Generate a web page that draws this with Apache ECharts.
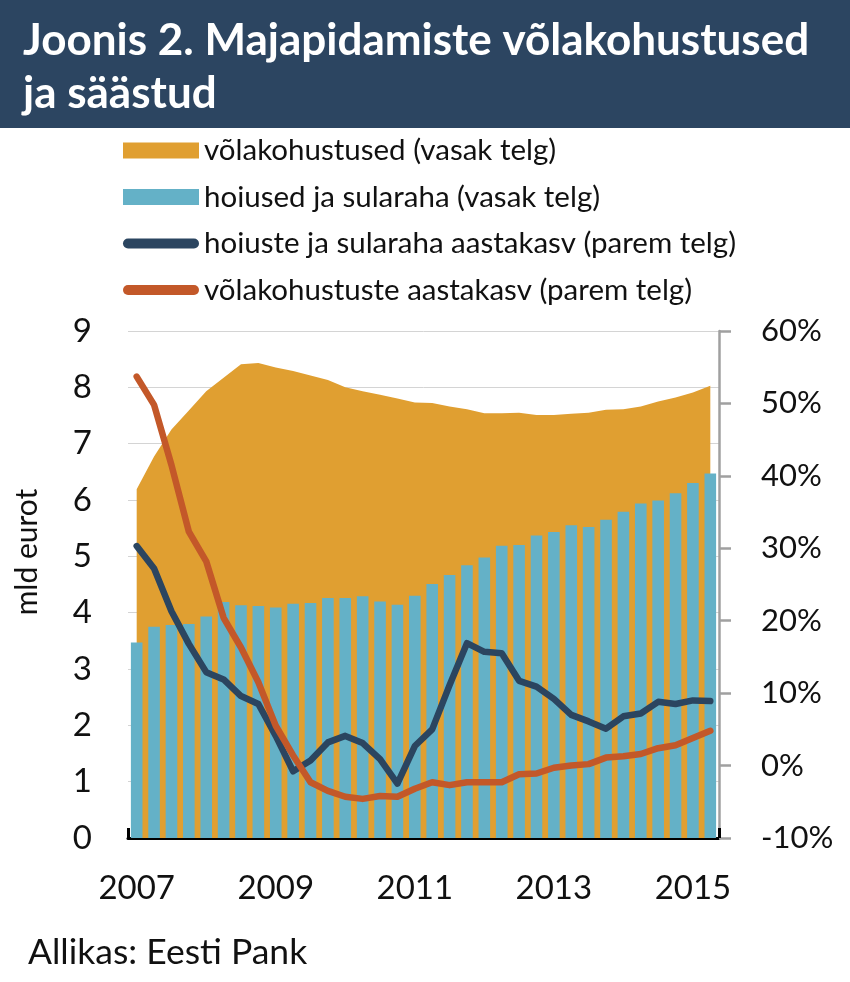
<!DOCTYPE html>
<html>
<head>
<meta charset="utf-8">
<script src="https://cdn.jsdelivr.net/npm/echarts@6/dist/echarts.min.js"></script>
<style>
html,body{margin:0;padding:0;background:#fff;}
#chart{width:850px;height:982px;}
</style>
</head>
<body>
<div id="chart"></div>
<script>
// Quarters 2007Q1 .. 2015Q2
const categories = [
  '2007Q1','2007Q2','2007Q3','2007Q4','2008Q1','2008Q2','2008Q3','2008Q4',
  '2009Q1','2009Q2','2009Q3','2009Q4','2010Q1','2010Q2','2010Q3','2010Q4',
  '2011Q1','2011Q2','2011Q3','2011Q4','2012Q1','2012Q2','2012Q3','2012Q4',
  '2013Q1','2013Q2','2013Q3','2013Q4','2014Q1','2014Q2','2014Q3','2014Q4',
  '2015Q1','2015Q2'
];
// võlakohustused (mld eurot, vasak telg)
const liabilities = [6.19,6.77,7.25,7.59,7.93,8.17,8.41,8.43,8.35,8.29,8.21,8.13,8.00,7.93,7.87,7.80,
  7.73,7.72,7.66,7.61,7.54,7.54,7.55,7.51,7.51,7.53,7.55,7.60,7.61,7.66,7.75,7.82,7.91,8.03];
// hoiused ja sularaha (mld eurot, vasak telg)
const deposits = [3.47,3.75,3.78,3.80,3.93,4.19,4.13,4.12,4.09,4.16,4.17,4.26,4.26,4.29,4.20,4.14,
  4.30,4.51,4.67,4.84,4.98,5.19,5.20,5.37,5.43,5.55,5.52,5.65,5.79,5.94,5.99,6.12,6.30,6.47];
// hoiuste ja sularaha aastakasv (%, parem telg)
const depositGrowth = [30.3,27.2,21.3,16.8,12.9,11.9,9.6,8.5,4.1,-0.8,0.7,3.2,4.1,3.1,0.9,-2.5,
  2.7,5.0,11.1,16.9,15.7,15.5,11.7,10.9,9.2,7.0,6.1,5.1,6.8,7.2,8.8,8.5,9.0,8.9];
// võlakohustuste aastakasv (%, parem telg)
const liabilityGrowth = [53.7,49.8,41.5,32.3,28.2,20.4,16.3,11.5,5.5,1.4,-2.3,-3.5,-4.3,-4.6,-4.2,-4.3,
  -3.2,-2.3,-2.7,-2.3,-2.3,-2.3,-1.2,-1.1,-0.3,0.0,0.2,1.1,1.3,1.6,2.4,2.8,3.8,4.8];
const leftTicks = {min: 0, max: 9, interval: 1};
const rightTicks = {min: -10, max: 60, interval: 10};

const names = ['võlakohustused (vasak telg)','hoiused ja sularaha (vasak telg)',
  'hoiuste ja sularaha aastakasv (parem telg)','võlakohustuste aastakasv (parem telg)'];
const C_AREA = '#e09f31', C_BAR = '#64b1c7', C_DARK = '#2b4560', C_ORANGE = '#c35829';
const FONT = 'Lato';
const pill = 'path://M5,0 L71,0 A5,5 0 0 1 71,10 L5,10 A5,5 0 0 1 5,0 Z';

const chart = echarts.init(document.getElementById('chart'), null, {renderer: 'canvas'});
chart.setOption({
  animation: false,
  backgroundColor: '#ffffff',
  textStyle: {fontFamily: FONT},
  title: {
    text: 'Joonis 2. Majapidamiste võlakohustused\nja säästud',
    left: 18, top: 9,
    textStyle: {color: '#ffffff', fontFamily: FONT, fontWeight: 'bold', fontSize: 44, lineHeight: 53}
  },
  graphic: [
    {type: 'rect', z: 0, shape: {x: 0, y: 0, width: 850, height: 128}, style: {fill: '#2c4561'}},
    {type: 'text', x: 27, y: 552, rotation: Math.PI / 2,
      style: {text: 'mld eurot', fill: '#111', font: '30px ' + FONT, align: 'center', verticalAlign: 'middle'}},
    {type: 'text', x: 28, y: 953,
      style: {text: 'Allikas: Eesti Pank', fill: '#111', font: '35.5px ' + FONT, align: 'left', verticalAlign: 'middle'}}
  ],
  legend: {
    orient: 'vertical', left: 123, top: 135.5, padding: 0,
    itemWidth: 76, itemHeight: 16, itemGap: 16.5,
    textStyle: {fontSize: 29.5, color: '#111', fontFamily: FONT},
    data: [
      {name: names[0], icon: 'rect'},
      {name: names[1], icon: 'rect'},
      {name: names[2], icon: pill},
      {name: names[3], icon: pill}
    ]
  },
  grid: {left: 128, right: 131, top: 331, bottom: 144, containLabel: false, outerBoundsMode: 'none'},
  xAxis: {
    type: 'category', data: categories, boundaryGap: true,
    axisLine: {show: true, lineStyle: {color: '#000', width: 3}},
    axisTick: {show: true, inside: true, length: 10, interval: 3, lineStyle: {color: '#000', width: 3}},
    axisLabel: {interval: 7, margin: 34, fontSize: 33, color: '#111', fontFamily: FONT,
      formatter: v => v.slice(0, 4)},
    splitLine: {show: false}
  },
  yAxis: [
    {type: 'value', min: leftTicks.min, max: leftTicks.max, interval: leftTicks.interval,
      axisLine: {show: false}, axisTick: {show: false},
      axisLabel: {margin: 36, fontSize: 33, color: '#111', fontFamily: FONT},
      splitLine: {show: true, lineStyle: {color: '#d4d4d4', width: 1}}},
    {type: 'value', min: rightTicks.min, max: rightTicks.max, interval: rightTicks.interval, position: 'right',
      axisLine: {show: true, lineStyle: {color: '#a0a0a0', width: 2.5}},
      axisTick: {show: true, inside: false, length: 12, lineStyle: {color: '#a0a0a0', width: 2.5}},
      axisLabel: {margin: 42, fontSize: 31, color: '#111', fontFamily: FONT, formatter: '{value}%'},
      splitLine: {show: false}}
  ],
  series: [
    {name: names[0], type: 'line', yAxisIndex: 0, data: liabilities, symbol: 'none', color: C_AREA,
      lineStyle: {width: 0}, areaStyle: {color: C_AREA, opacity: 1}, z: 1},
    {name: names[1], type: 'bar', yAxisIndex: 0, data: deposits, barWidth: 11.6, color: C_BAR, z: 2},
    {name: names[2], type: 'line', yAxisIndex: 1, data: depositGrowth, symbol: 'none', color: C_DARK,
      lineStyle: {width: 6.5, cap: 'round', join: 'round'}, z: 3},
    {name: names[3], type: 'line', yAxisIndex: 1, data: liabilityGrowth, symbol: 'none', color: C_ORANGE,
      lineStyle: {width: 6.5, cap: 'round', join: 'round'}, z: 4}
  ]
});
</script>
</body>
</html>
